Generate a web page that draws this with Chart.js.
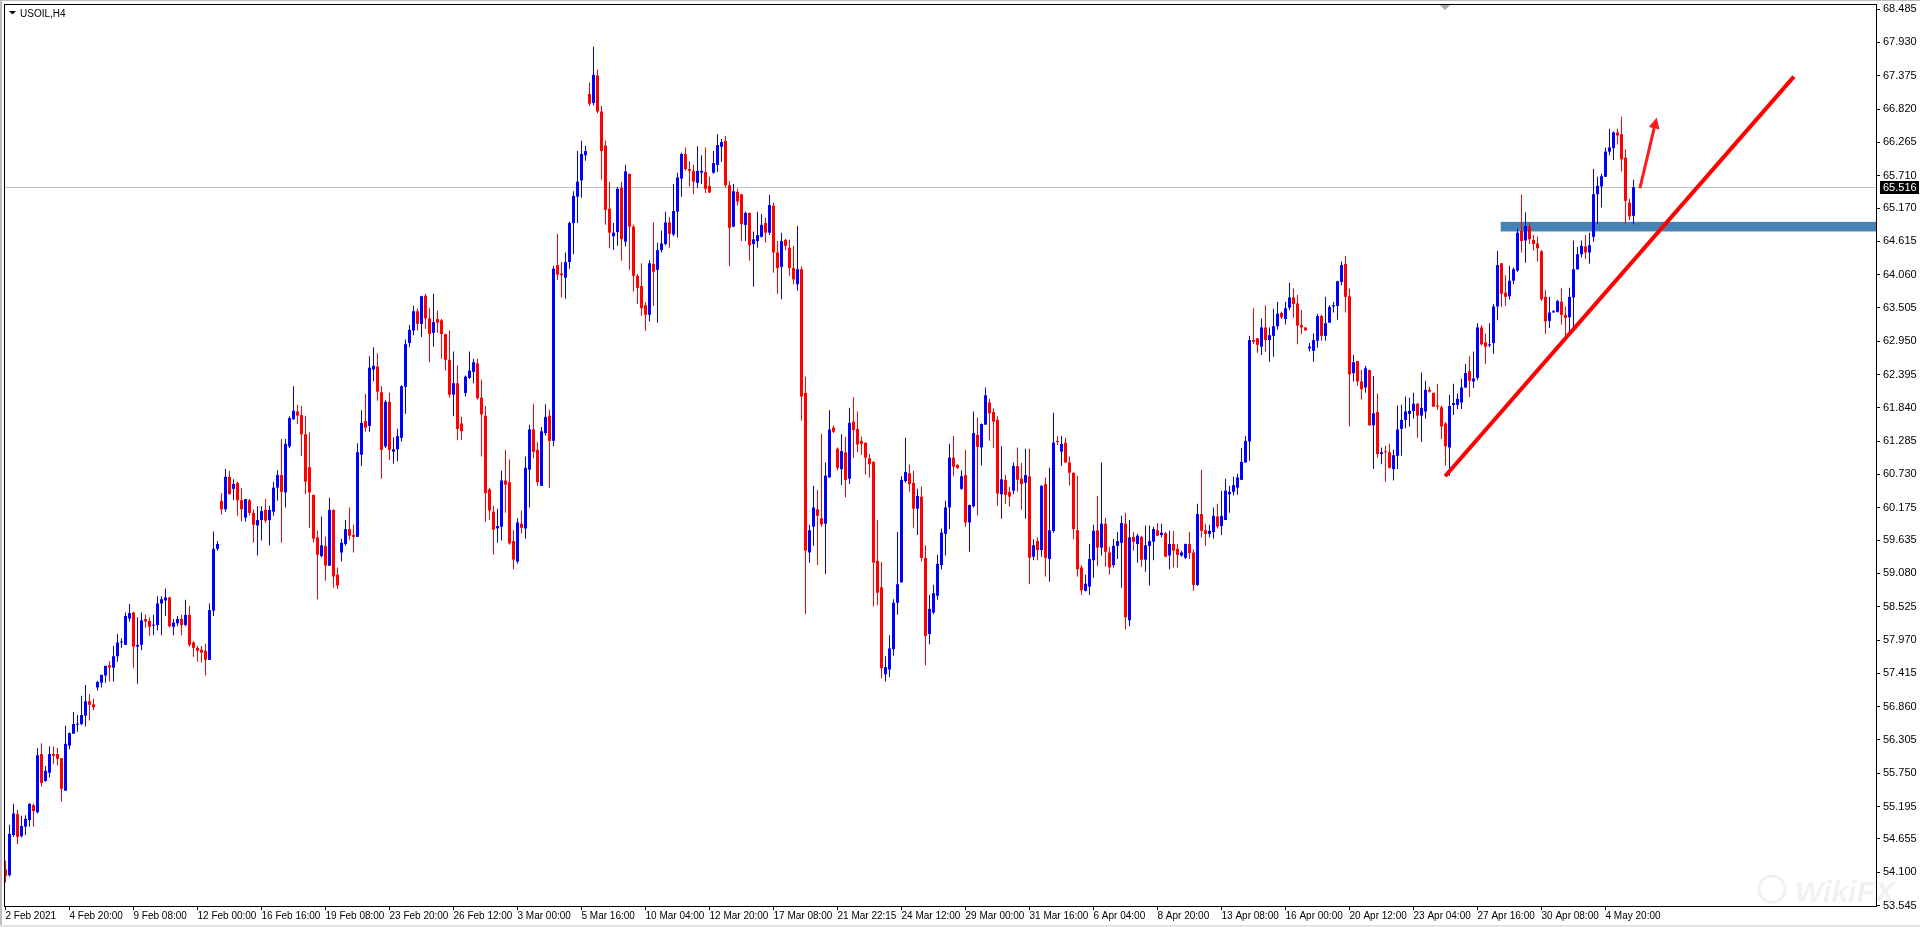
<!DOCTYPE html>
<html>
<head>
<meta charset="utf-8">
<title>USOIL,H4</title>
<script src="https://cdn.jsdelivr.net/npm/chart.js"></script>
<style>
  html, body { margin: 0; padding: 0; background: #ffffff; overflow: hidden; }
  canvas { display: block; }
</style>
</head>
<body>
<canvas id="c" width="1920" height="927"></canvas>
<script>
// ---------------- DATA (USOIL H4) ----------------
const symbolTitle = 'USOIL,H4';

const opens = [
54.15,54.05,54.72,55.07,54.70,54.86,54.97,55.22,55.10,56.07,
55.62,55.76,56.07,56.07,56.00,55.46,56.21,56.41,56.56,56.57,
56.71,56.95,56.90,57.18,57.26,57.38,57.55,57.51,57.70,57.93,
57.89,58.33,58.43,57.86,57.89,58.32,58.29,58.21,58.22,58.58,
58.63,58.68,58.19,58.25,58.32,58.22,58.39,57.93,57.84,57.81,
57.79,57.64,58.46,59.49,60.29,60.15,60.69,60.49,60.59,60.30,
60.01,60.30,60.09,59.88,59.97,60.14,59.97,60.11,60.51,60.72,
60.43,61.20,61.65,61.78,61.72,61.40,60.85,60.39,59.68,59.37,
59.54,59.21,60.14,59.06,59.43,59.57,59.82,59.72,59.69,61.06,
61.62,61.54,62.48,62.53,62.10,61.20,61.94,61.11,61.15,61.34,
62.19,62.92,63.13,63.45,63.24,63.71,63.33,63.09,63.32,63.30,
63.07,62.64,62.06,62.25,61.58,62.09,62.34,62.44,62.58,62.01,
61.71,60.48,60.11,59.83,59.86,60.63,60.60,59.62,59.28,59.91,
59.83,60.81,61.48,61.14,60.54,61.42,61.71,61.29,64.22,64.08,
64.01,64.27,64.92,65.36,65.63,66.05,67.07,66.92,67.38,66.78,
66.21,65.16,64.70,64.77,65.51,64.61,65.74,64.86,64.04,63.87,
63.55,63.39,64.24,64.14,64.47,64.57,64.93,64.73,65.11,65.66,
66.07,65.82,65.79,65.59,65.76,65.77,65.54,65.76,65.89,66.19,
66.29,65.55,64.86,65.44,65.40,64.89,65.09,64.57,64.62,64.69,
64.92,64.76,65.21,64.43,64.19,64.64,64.51,64.17,63.90,64.15,
62.09,59.43,59.86,60.15,60.00,59.91,60.68,61.51,61.16,60.82,
61.10,60.66,61.61,61.49,61.29,61.26,61.00,60.94,59.29,58.85,
57.40,57.48,57.82,58.59,58.93,60.62,60.75,60.59,60.16,60.36,
59.34,58.07,58.43,58.71,59.22,59.74,60.18,61.01,60.89,60.49,
60.72,59.93,60.20,61.39,61.18,61.56,61.93,61.77,61.64,60.40,
60.64,60.44,60.46,60.87,60.66,60.59,60.70,59.36,59.62,59.47,
60.57,59.32,59.79,61.29,61.11,61.26,60.93,60.76,59.80,59.18,
58.79,58.86,59.30,59.80,59.51,59.91,59.43,59.22,59.54,59.59,
59.91,58.30,59.69,59.57,59.69,59.31,59.54,59.61,59.80,59.72,
59.75,59.38,59.57,59.49,59.38,59.34,59.57,59.43,58.89,60.07,
59.80,59.74,59.77,60.03,59.87,59.97,60.40,60.44,60.51,60.64,
60.93,61.28,62.97,63.00,62.86,63.18,62.97,63.04,63.20,63.42,
63.32,63.51,63.68,63.58,63.22,63.18,62.83,62.79,62.96,63.37,
63.04,63.26,63.53,63.54,63.94,64.24,63.70,62.42,62.62,62.28,
62.18,62.47,61.55,61.77,61.07,61.11,61.10,60.82,61.04,61.49,
61.64,61.74,61.79,61.91,61.71,61.78,62.14,62.09,61.88,61.85,
61.58,61.18,61.89,61.89,61.93,62.18,62.45,62.28,62.34,63.18,
62.93,62.88,62.92,63.53,64.25,63.76,63.70,63.96,64.13,64.79,
64.63,64.86,64.64,64.58,64.45,63.69,63.29,63.43,63.44,63.61,
63.39,63.35,63.68,64.15,64.40,64.53,64.43,64.69,65.40,65.53,
65.69,66.11,66.17,66.43,66.40,66.01,65.26,65.04
];

const highs = [
54.29,54.89,55.24,55.14,55.04,55.05,55.25,55.24,56.17,56.25,
55.87,56.20,56.20,56.17,56.00,56.54,56.43,56.77,56.72,57.04,
57.22,57.07,56.99,57.29,57.39,57.54,57.62,57.87,58.07,58.00,
58.43,58.57,58.44,58.35,58.43,58.39,58.35,58.39,58.70,58.70,
58.83,58.69,58.32,58.37,58.39,58.64,58.54,57.95,57.87,57.87,
57.91,58.58,59.78,59.62,60.42,60.82,60.79,60.65,60.61,60.50,
60.32,60.32,60.15,60.20,60.20,60.32,60.21,60.61,60.80,61.32,
61.32,61.70,62.20,61.89,61.87,61.71,61.43,60.39,59.79,60.03,
59.69,60.34,60.15,59.18,59.66,59.97,60.18,59.89,61.25,61.80,
62.07,62.70,62.85,62.75,62.20,61.97,62.09,61.35,61.49,62.22,
62.98,63.22,63.54,63.50,63.71,63.74,63.50,63.74,63.46,63.32,
63.07,63.13,62.78,62.55,61.69,62.38,62.78,62.66,62.66,62.31,
61.87,60.51,60.21,60.16,60.79,61.14,60.98,59.80,60.00,60.13,
61.03,61.56,61.91,61.27,61.52,61.90,61.81,64.21,64.74,64.27,
64.43,64.94,65.45,66.12,66.29,66.21,67.26,67.86,67.48,66.87,
66.29,65.61,64.92,65.52,65.61,65.89,65.74,64.89,64.07,64.25,
63.60,64.30,64.93,64.59,64.79,65.11,65.02,65.57,65.76,66.09,
66.18,65.95,65.89,66.20,66.05,66.18,65.69,66.12,66.40,66.32,
66.37,65.62,65.57,65.49,65.40,65.11,65.09,64.78,65.11,65.07,
65.01,65.39,65.26,64.62,64.76,64.66,64.64,64.54,64.87,64.20,
62.36,59.89,60.54,60.47,61.41,60.93,61.80,61.55,61.18,61.40,
61.36,61.84,62.02,61.78,61.36,61.26,61.07,60.95,59.97,59.27,
57.70,58.05,58.65,59.77,60.70,61.34,60.89,60.79,60.49,60.53,
59.55,58.72,58.89,59.39,59.83,60.29,61.24,61.37,60.90,60.80,
61.14,60.23,61.78,61.68,61.58,62.18,61.99,61.83,61.70,61.20,
60.72,60.52,60.93,61.18,60.92,61.16,61.16,59.65,59.68,60.55,
60.68,60.84,61.76,61.37,61.37,61.34,61.03,60.76,60.71,59.22,
59.06,59.57,59.89,60.37,60.93,60.01,59.52,59.65,59.77,60.04,
60.09,59.97,59.77,59.74,59.71,59.88,59.88,59.86,59.92,59.91,
59.77,59.79,59.79,59.57,59.46,59.58,59.77,59.48,60.24,60.81,
59.91,59.89,60.18,60.24,60.46,60.66,60.54,60.69,60.74,61.17,
61.37,63.04,63.50,63.00,63.33,63.55,63.18,63.49,63.61,63.44,
63.61,63.93,63.83,63.72,63.47,63.18,62.92,63.08,63.41,63.39,
63.69,63.55,63.61,63.96,64.28,64.37,63.83,62.72,62.62,62.47,
62.54,62.48,62.37,62.08,61.18,61.21,61.24,61.14,61.88,61.89,
62.03,62.01,62.09,61.92,62.43,62.29,62.19,62.09,62.24,61.88,
61.60,62.06,62.24,62.08,62.33,62.57,62.70,62.78,63.25,63.22,
63.08,63.25,63.57,64.46,64.25,64.05,64.21,64.18,64.83,65.39,
65.10,64.92,64.72,64.69,64.47,63.80,63.69,63.47,63.64,63.83,
63.53,63.84,64.63,64.52,64.63,64.72,64.76,65.82,65.69,65.74,
66.18,66.49,66.45,66.49,66.69,66.15,65.32,65.64
];

const lows = [
53.93,54.03,54.69,54.57,54.68,54.72,54.86,54.86,55.08,55.53,
55.61,55.68,55.90,55.88,55.28,55.46,56.15,56.41,56.44,56.55,
56.53,56.63,56.80,57.13,57.18,57.26,57.28,57.28,57.61,57.84,
57.89,58.28,57.50,57.24,57.80,58.17,58.04,58.05,58.13,58.05,
58.37,58.18,58.05,58.20,58.05,58.20,57.86,57.69,57.61,57.59,
57.38,57.64,58.37,59.46,60.06,60.11,60.40,60.30,60.04,59.95,
59.94,60.04,59.59,59.38,59.63,59.92,59.55,60.04,60.29,59.59,
60.18,61.17,61.64,61.57,61.04,60.40,59.84,59.59,58.65,59.35,
58.96,59.21,58.84,58.82,59.28,59.54,59.64,59.43,59.69,60.87,
61.44,61.44,62.28,61.96,60.66,61.17,60.97,60.91,60.95,61.28,
61.74,62.85,63.05,63.13,63.02,63.16,62.60,62.86,63.09,62.66,
62.46,62.01,61.70,61.30,61.31,62.03,62.32,62.25,61.98,61.03,
59.94,59.97,59.39,59.59,59.63,60.09,59.56,59.15,59.24,59.75,
59.66,60.18,61.00,60.54,60.54,61.38,60.51,61.20,63.97,63.68,
63.66,64.16,64.40,64.92,65.34,65.96,66.87,66.88,66.75,65.64,
64.89,64.50,64.47,64.54,64.29,64.53,64.14,63.78,63.57,63.37,
63.12,63.28,63.54,63.26,64.43,64.55,64.51,64.70,64.68,65.36,
65.79,65.53,65.40,65.51,65.57,65.42,65.42,65.74,65.77,65.94,
65.51,64.20,64.85,65.21,64.62,64.62,64.29,63.86,64.51,64.68,
64.59,64.72,64.09,63.74,63.65,64.47,64.04,63.90,63.79,61.63,
58.40,59.26,59.54,59.22,59.86,59.07,60.68,61.42,60.80,60.55,
60.35,60.57,61.01,61.10,61.06,60.73,60.68,58.53,58.55,57.33,
57.28,57.35,57.71,58.39,58.93,60.59,60.44,59.84,59.72,59.28,
57.55,57.90,58.40,58.64,59.15,59.38,59.82,60.70,60.82,60.47,
59.86,59.44,60.18,60.05,60.88,61.56,61.29,61.17,60.21,59.99,
60.24,60.19,60.40,60.44,60.14,59.99,58.90,59.30,59.30,59.36,
59.03,58.94,59.76,61.22,60.87,60.92,60.55,59.65,59.03,58.72,
58.78,58.72,59.01,59.20,59.38,59.19,59.06,59.18,59.32,58.84,
58.15,58.20,59.46,59.26,59.19,59.11,58.88,59.30,59.70,59.68,
59.35,59.15,59.18,59.18,59.36,59.32,59.32,58.79,58.87,59.68,
59.54,59.68,59.66,59.83,59.72,59.97,60.09,60.38,60.39,60.64,
60.93,60.96,62.90,62.76,62.72,62.78,62.61,62.69,63.14,63.32,
63.23,63.47,63.34,62.90,63.07,63.13,62.78,62.61,62.84,62.96,
62.96,63.26,63.43,63.31,63.88,63.43,61.53,62.28,62.21,61.98,
62.09,61.54,60.82,61.01,60.90,60.61,60.83,60.63,60.82,61.04,
61.50,61.53,61.66,61.34,61.27,61.66,62.09,61.86,61.81,61.32,
60.88,60.71,61.72,61.82,61.82,62.17,62.02,62.17,62.30,62.88,
62.57,62.85,62.74,63.30,63.52,63.54,63.64,63.90,64.11,64.43,
64.26,64.57,64.46,64.28,63.62,63.07,63.17,63.43,63.43,63.23,
63.04,63.07,63.18,64.14,64.35,64.32,64.24,64.61,64.91,65.18,
65.69,66.05,65.97,66.23,65.78,64.90,64.97,64.90
];

const closes = [
54.04,54.74,55.08,54.69,54.87,54.99,55.24,55.12,56.05,55.59,
55.79,56.07,56.04,55.99,55.49,56.24,56.42,56.57,56.57,56.72,
56.95,56.89,56.85,57.27,57.39,57.54,57.51,57.70,57.93,57.94,
58.37,58.42,57.86,57.89,58.30,58.28,58.19,58.22,58.58,58.65,
58.68,58.20,58.26,58.32,58.22,58.39,57.89,57.84,57.79,57.76,
57.64,58.47,59.49,59.57,60.15,60.69,60.40,60.57,60.30,60.15,
60.32,60.09,59.89,59.97,60.12,59.96,60.14,60.51,60.72,60.44,
61.24,61.67,61.79,61.71,61.40,60.61,60.43,59.66,59.39,59.55,
59.21,60.14,59.03,58.88,59.59,59.82,59.71,59.69,61.10,61.59,
61.51,62.51,62.54,62.11,61.14,61.94,61.14,61.15,61.37,62.20,
62.90,63.14,63.45,63.24,63.70,63.33,63.07,63.27,63.26,63.07,
62.64,62.06,62.25,61.49,61.45,62.36,62.46,62.60,62.00,61.73,
60.42,60.13,59.81,59.87,60.63,60.56,59.58,59.31,59.93,59.84,
60.84,61.48,61.11,60.60,61.45,61.69,61.29,64.16,64.06,64.05,
64.27,64.92,65.37,65.61,66.07,66.12,66.91,67.39,66.78,66.12,
65.14,64.76,64.76,65.49,64.65,65.78,64.86,64.04,63.84,63.50,
63.39,64.25,64.11,64.47,64.58,64.93,64.74,65.12,65.68,66.07,
65.82,65.79,65.61,65.79,65.79,65.49,65.43,65.92,66.22,66.27,
65.55,64.84,65.45,65.28,64.90,65.09,64.55,64.65,64.72,64.89,
64.76,65.22,64.43,64.17,64.62,64.54,64.17,63.98,64.15,62.03,
59.46,59.80,60.18,60.04,59.90,60.71,61.48,61.44,60.84,61.12,
60.64,61.59,61.47,61.23,61.24,61.01,60.90,59.26,58.76,57.50,
57.52,57.83,58.59,58.90,60.64,60.77,60.57,60.16,60.37,59.34,
58.04,58.49,58.75,59.24,59.76,60.18,61.01,60.86,60.84,60.70,
59.93,60.22,61.42,61.19,61.57,62.05,61.75,61.61,60.41,60.65,
60.39,60.36,60.87,60.64,60.57,60.72,59.34,59.55,59.47,60.54,
59.34,59.80,61.26,61.27,61.24,60.93,60.76,59.82,59.15,58.80,
58.91,59.32,59.79,59.51,59.91,59.44,59.18,59.54,59.62,59.92,
58.35,59.68,59.61,59.71,59.31,59.55,59.62,59.82,59.71,59.76,
59.36,59.57,59.46,59.39,59.43,59.57,59.42,58.89,60.07,59.79,
59.74,59.79,60.04,59.86,60.04,60.46,60.44,60.55,60.68,60.94,
61.29,62.97,62.94,62.89,63.18,62.97,63.05,63.20,63.41,63.35,
63.50,63.68,63.57,63.21,63.18,63.13,62.86,62.97,63.37,63.04,
63.25,63.52,63.55,63.95,64.22,63.69,62.40,62.60,62.28,62.15,
62.50,61.55,61.75,61.07,61.10,61.10,60.84,61.05,61.48,61.64,
61.78,61.79,61.91,61.71,61.84,62.14,62.11,61.86,61.86,61.53,
61.20,61.87,61.92,61.99,62.18,62.42,62.29,62.33,63.18,62.90,
62.86,62.90,63.53,64.22,63.74,63.69,63.96,64.15,64.76,64.62,
64.87,64.65,64.57,64.50,63.65,63.28,63.43,63.45,63.62,63.39,
63.34,63.69,64.15,64.40,64.54,64.43,64.55,65.40,65.54,65.70,
66.11,66.18,66.43,66.38,65.98,65.29,65.03,65.516
];

// time-axis labels, one every 16 H4 bars starting at bar 0
const timeLabels = [
'2 Feb 2021','4 Feb 20:00','9 Feb 08:00','12 Feb 00:00','16 Feb 16:00','19 Feb 08:00',
'23 Feb 20:00','26 Feb 12:00','3 Mar 00:00','5 Mar 16:00','10 Mar 04:00','12 Mar 20:00',
'17 Mar 08:00','21 Mar 22:15','24 Mar 12:00','29 Mar 00:00','31 Mar 16:00','6 Apr 04:00',
'8 Apr 20:00','13 Apr 08:00','16 Apr 00:00','20 Apr 12:00','23 Apr 04:00','27 Apr 16:00',
'30 Apr 08:00','4 May 20:00'
];
const TIME_LABEL_STEP = 16;

// price-axis labels (bottom to top)
const priceLabels = [
'53.545','54.100','54.655','55.195','55.750','56.305','56.860','57.415','57.970','58.525',
'59.080','59.635','60.175','60.730','61.285','61.840','62.395','62.950','63.505','64.060',
'64.615','65.170','65.710','66.265','66.820','67.375','67.930','68.485'
];

// current bid price
const bidPrice = 65.516;
const bidLabel = '65.516';

// drawn objects (in bar index / price units)
const zoneStartBar = 373.8, zoneTop = 64.94, zoneBottom = 64.78;
const trendStart = [359.9, 60.70], trendEnd = [447.1, 67.36];
const arrowStart = [408.6, 65.50], arrowEnd = [412.8, 66.68];

// view range
const X_MIN = -0.375, X_MAX = 467.625;
const Y_MIN = 53.5377, Y_MAX = 68.571;

// ---------------- STYLE ----------------
const UP = '#0000ff', DOWN = '#ff0000';

const candleColors = closes.map((c, i) => c >= opens[i] ? UP : DOWN);
const bodyData = closes.map((c, i) => ({ x: i, y: [opens[i], c] }));
const wickData = closes.map((c, i) => ({
  x: i,
  y: [Math.min(lows[i], opens[i], c), Math.max(highs[i], opens[i], c)]
}));

const decor = {
  id: 'decor',
  beforeDatasetsDraw(chart) {
    const { ctx, chartArea: a, scales: { x, y } } = chart;
    ctx.save();
    ctx.beginPath();
    ctx.rect(a.left, a.top, a.right - a.left, a.bottom - a.top);
    ctx.clip();
    // bid line
    const yb = Math.round(y.getPixelForValue(bidPrice)) + 0.5;
    ctx.strokeStyle = '#c0c0c0';
    ctx.lineWidth = 1;
    ctx.beginPath(); ctx.moveTo(a.left, yb); ctx.lineTo(a.right, yb); ctx.stroke();
    // support zone
    const zx = x.getPixelForValue(zoneStartBar);
    const zt = y.getPixelForValue(zoneTop), zb = y.getPixelForValue(zoneBottom);
    ctx.fillStyle = '#4682b4';
    ctx.fillRect(zx, zt, a.right - zx, zb - zt);
    ctx.restore();
  },
  afterDatasetsDraw(chart) {
    const { ctx, chartArea: a, scales: { x, y } } = chart;
    ctx.save();
    ctx.beginPath();
    ctx.rect(a.left, a.top, a.right - a.left, a.bottom - a.top);
    ctx.clip();
    // trend line
    ctx.strokeStyle = '#ff0000';
    ctx.lineWidth = 4;
    ctx.beginPath();
    ctx.moveTo(x.getPixelForValue(trendStart[0]), y.getPixelForValue(trendStart[1]));
    ctx.lineTo(x.getPixelForValue(trendEnd[0]), y.getPixelForValue(trendEnd[1]));
    ctx.stroke();
    // arrow
    const sx = x.getPixelForValue(arrowStart[0]), sy = y.getPixelForValue(arrowStart[1]);
    const ex = x.getPixelForValue(arrowEnd[0]), ey = y.getPixelForValue(arrowEnd[1]);
    const len = Math.hypot(ex - sx, ey - sy);
    const dx = (ex - sx) / len, dy = (ey - sy) / len;
    const headL = 11, headW = 5.5;
    const bx = ex - dx * headL, by = ey - dy * headL;
    ctx.strokeStyle = '#ff1a1a';
    ctx.lineWidth = 3;
    ctx.beginPath(); ctx.moveTo(sx, sy); ctx.lineTo(bx, by); ctx.stroke();
    ctx.fillStyle = '#ff1a1a';
    ctx.beginPath();
    ctx.moveTo(ex, ey);
    ctx.lineTo(bx - dy * headW, by + dx * headW);
    ctx.lineTo(bx + dy * headW, by - dx * headW);
    ctx.closePath();
    ctx.fill();
    ctx.restore();
  },
  afterDraw(chart) {
    const { ctx, chartArea: a, scales: { y } } = chart;
    const W = chart.width, H = chart.height;
    ctx.save();
    // faint watermark (under frame and labels)
    ctx.strokeStyle = 'rgba(150,150,150,0.13)';
    ctx.lineWidth = 3;
    ctx.beginPath(); ctx.arc(1772, 889, 13, 0, Math.PI * 2); ctx.stroke();
    ctx.fillStyle = 'rgba(150,150,150,0.13)';
    ctx.font = 'bold italic 30px "Liberation Sans", Arial, sans-serif';
    ctx.textBaseline = 'alphabetic';
    ctx.textAlign = 'left';
    ctx.fillText('WikiFX', 1795, 902);
    // window edges
    ctx.fillStyle = '#bdbdbd';
    ctx.fillRect(0, 0, 2, H);
    ctx.fillRect(0, 0, W, 1);
    ctx.fillStyle = '#e3e3e3';
    ctx.fillRect(0, H - 2, W, 2);
    // chart frame
    ctx.strokeStyle = '#000';
    ctx.lineWidth = 1;
    ctx.strokeRect(a.left + 0.5, a.top + 0.5, a.right - a.left, a.bottom - a.top);
    // chart-shift marker
    ctx.fillStyle = '#a8a8a8';
    ctx.beginPath();
    ctx.moveTo(1440, a.top + 1); ctx.lineTo(1450, a.top + 1); ctx.lineTo(1445, a.top + 6);
    ctx.closePath(); ctx.fill();
    // bid price box
    const yb = Math.round(y.getPixelForValue(bidPrice));
    ctx.fillStyle = '#000';
    ctx.fillRect(a.right + 4, yb - 6, W - a.right - 5, 13);
    ctx.fillStyle = '#fff';
    ctx.font = '11px "Liberation Sans", Arial, sans-serif';
    ctx.textBaseline = 'middle';
    ctx.textAlign = 'left';
    ctx.fillText(bidLabel, a.right + 7, yb + 0.5);
    // title
    ctx.fillStyle = '#000';
    ctx.beginPath();
    ctx.moveTo(9, 11); ctx.lineTo(16, 11); ctx.lineTo(12.5, 14.5);
    ctx.closePath(); ctx.fill();
    ctx.font = '10px "Liberation Sans", Arial, sans-serif';
    ctx.textBaseline = 'alphabetic';
    ctx.fillText(symbolTitle, 20, 16.5);
    ctx.restore();
  }
};

new Chart(document.getElementById('c'), {
  type: 'bar',
  data: {
    datasets: [
      {
        label: 'body', data: bodyData, backgroundColor: candleColors,
        barThickness: 3, minBarLength: 1, grouped: false,
        inflateAmount: 0, borderWidth: 0, order: 0
      },
      {
        label: 'wick', data: wickData, backgroundColor: candleColors,
        barThickness: 1, minBarLength: 1, grouped: false,
        inflateAmount: 0, borderWidth: 0, order: 1
      }
    ]
  },
  options: {
    responsive: false,
    maintainAspectRatio: false,
    devicePixelRatio: 1,
    animation: false,
    events: [],
    layout: { padding: { left: 4, top: 4, right: 0, bottom: 0 } },
    plugins: { legend: { display: false }, tooltip: { enabled: false } },
    scales: {
      x: {
        type: 'linear', min: X_MIN, max: X_MAX, offset: false, bounds: 'data',
        afterBuildTicks: s => { s.ticks = timeLabels.map((_, k) => ({ value: k * TIME_LABEL_STEP })); },
        afterFit: s => { s.height = 21; s.paddingLeft = 0; s.paddingRight = 0; },
        ticks: {
          callback: (v, i) => timeLabels[i],
          autoSkip: false, maxRotation: 0, minRotation: 0, align: 'start', padding: 0,
          color: '#000', font: { family: '"Liberation Sans", Arial, sans-serif', size: 10 }
        },
        grid: { display: true, drawOnChartArea: false, drawTicks: true, tickLength: 4, color: '#000', offset: false },
        border: { display: true, color: '#000', width: 1 }
      },
      y: {
        type: 'linear', position: 'right', min: Y_MIN, max: Y_MAX, bounds: 'data',
        afterBuildTicks: s => { s.ticks = priceLabels.map(t => ({ value: parseFloat(t) })); },
        afterFit: s => { s.width = 44; s.paddingTop = 0; s.paddingBottom = 0; },
        ticks: {
          callback: (v, i) => priceLabels[i],
          autoSkip: false, padding: 3,
          color: '#000', font: { family: '"Liberation Sans", Arial, sans-serif', size: 11 }
        },
        grid: { display: true, drawOnChartArea: false, drawTicks: true, tickLength: 4, color: '#000' },
        border: { display: true, color: '#000', width: 1 }
      }
    }
  },
  plugins: [decor]
});
</script>
</body>
</html>
